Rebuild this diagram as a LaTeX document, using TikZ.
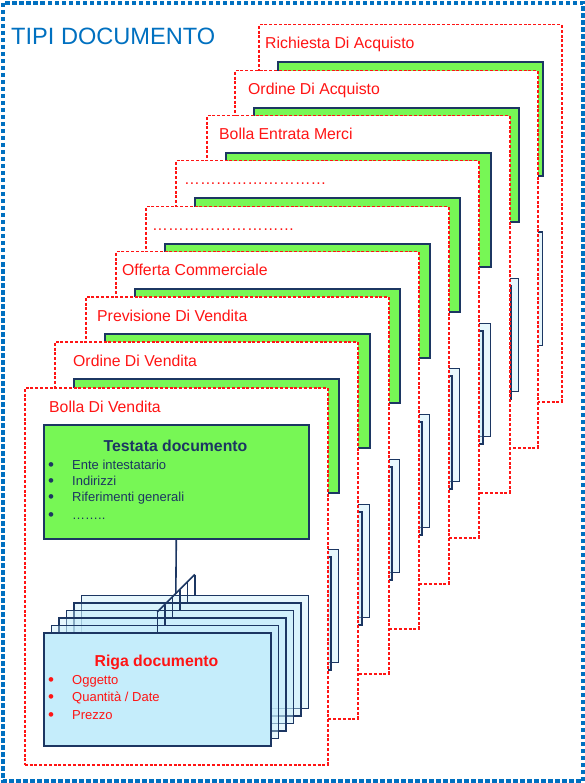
\documentclass[tikz,border=0pt]{standalone}
\usepackage{fontspec}
\setmainfont{Liberation Sans}
\usetikzlibrary{calc}

\definecolor{rossodoc}{RGB}{255,20,20}
\definecolor{verdetest}{RGB}{119,247,85}
\definecolor{bordoblu}{RGB}{28,54,98}
\definecolor{azzurroriga}{RGB}{197,237,251}
\definecolor{bluecornice}{RGB}{0,112,192}

\tikzset{
  cornice/.style={draw=bluecornice, line width=3.2pt, dash pattern=on 4.5pt off 2.5pt},
  pagina/.style={draw=rossodoc, fill=white, line width=1.5pt, dash pattern=on 3pt off 1.8pt,
                 anchor=north west, inner sep=0pt, minimum width=303pt, minimum height=377pt},
  testata/.style={draw=bordoblu, fill=verdetest, line width=1.6pt,
                  anchor=north west, inner sep=0pt, minimum width=265pt, minimum height=114pt},
  riga/.style={draw=bordoblu, fill=azzurroriga, line width=1.6pt,
               anchor=north west, inner sep=0pt, minimum width=227pt, minimum height=113pt},
  filo/.style={draw=bordoblu, line width=1.6pt},
  etichetta/.style={text=rossodoc, font=\fontsize{15.8}{18}\selectfont, anchor=base west, inner sep=0pt},
  titolo/.style={font=\fontsize{15.8}{18}\selectfont\bfseries, anchor=base, inner sep=0pt},
  voce/.style={font=\fontsize{13}{15}\selectfont, anchor=base west, inner sep=0pt},
  punto/.style={font=\fontsize{17}{19}\selectfont, anchor=base, inner sep=0pt}
}

\begin{document}
\begin{tikzpicture}[x=1pt,y=-1pt]
  \useasboundingbox (0,0) rectangle (585,783);

  % cornice esterna
  \draw[cornice] (3,3) rectangle (583,781);
  \node[text=bluecornice, font=\fontsize{23.6}{26}\selectfont, anchor=base west, inner sep=0pt]
    (tipi) at (11,45) {TIPI DOCUMENTO};

  % pagine, dalla piu' lontana alla piu' vicina
  \foreach \px/\py/\lx/\etich [count=\n] in
    {258/24/265/Richiesta Di Acquisto,
     234/70/248/Ordine Di Acquisto,
     206/115/219/Bolla Entrata Merci,
     175/160/184/………………………,
     145/206/152/………………………,
     115/251/122/Offerta Commerciale,
     85/296/97/Previsione Di Vendita,
     54/341/73/Ordine Di Vendita,
     24/387/49/Bolla Di Vendita}
  {
    \node[pagina] (pag\n) at (\px,\py) {};
    \node[etichetta] (etich\n) at (\lx,\py+25) {\etich};
    \node[testata] (test\n) at (\px+19,\py+37) {};
    % righe impilate
    \foreach \i in {5,...,0} {
      \pgfmathsetmacro\opac{\i==0 ? 1 : 0.4}
      \node[riga, fill opacity=\opac] (riga\n\i) at ({\px+19+7.5*\i},{\py+245-7.5*\i}) {};
    }
  }

  % collegamenti testata -> righe (pagina in primo piano)
  \foreach \i in {0,...,5} {
    \coordinate (cima\i) at ($(riga9\i.north)+(0,-20)$);
    \draw[filo] (riga9\i.north) -- (cima\i);
  }
  \draw[filo] (cima0) -- (cima5);
  \coordinate (nodo) at ($(cima0)!0.4933!(cima5)$);
  \draw[filo] (test9.south) -- (nodo);

  % testo testata
  \node[titolo, text=bordoblu] (titTest) at (175.5,451.5) {Testata documento};
  \foreach \y/\voce [count=\k] in {469.5/Ente intestatario, 485.5/Indirizzi,
                                   501.5/Riferimenti generali, 519/……..}
  {
    \node[punto, text=bordoblu] (pt\k) at (51,\y+1) {•};
    \node[voce, text=bordoblu] (vt\k) at (72,\y) {\voce};
  }

  % testo riga
  \node[titolo, text=rossodoc] (titRiga) at (156.5,666.5) {Riga documento};
  \foreach \y/\voce [count=\k] in {684/Oggetto, 701/{Quantità / Date}, 719.5/Prezzo}
  {
    \node[punto, text=rossodoc] (pr\k) at (51,\y+1) {•};
    \node[voce, text=rossodoc] (vr\k) at (72,\y) {\voce};
  }
\end{tikzpicture}
\end{document}
